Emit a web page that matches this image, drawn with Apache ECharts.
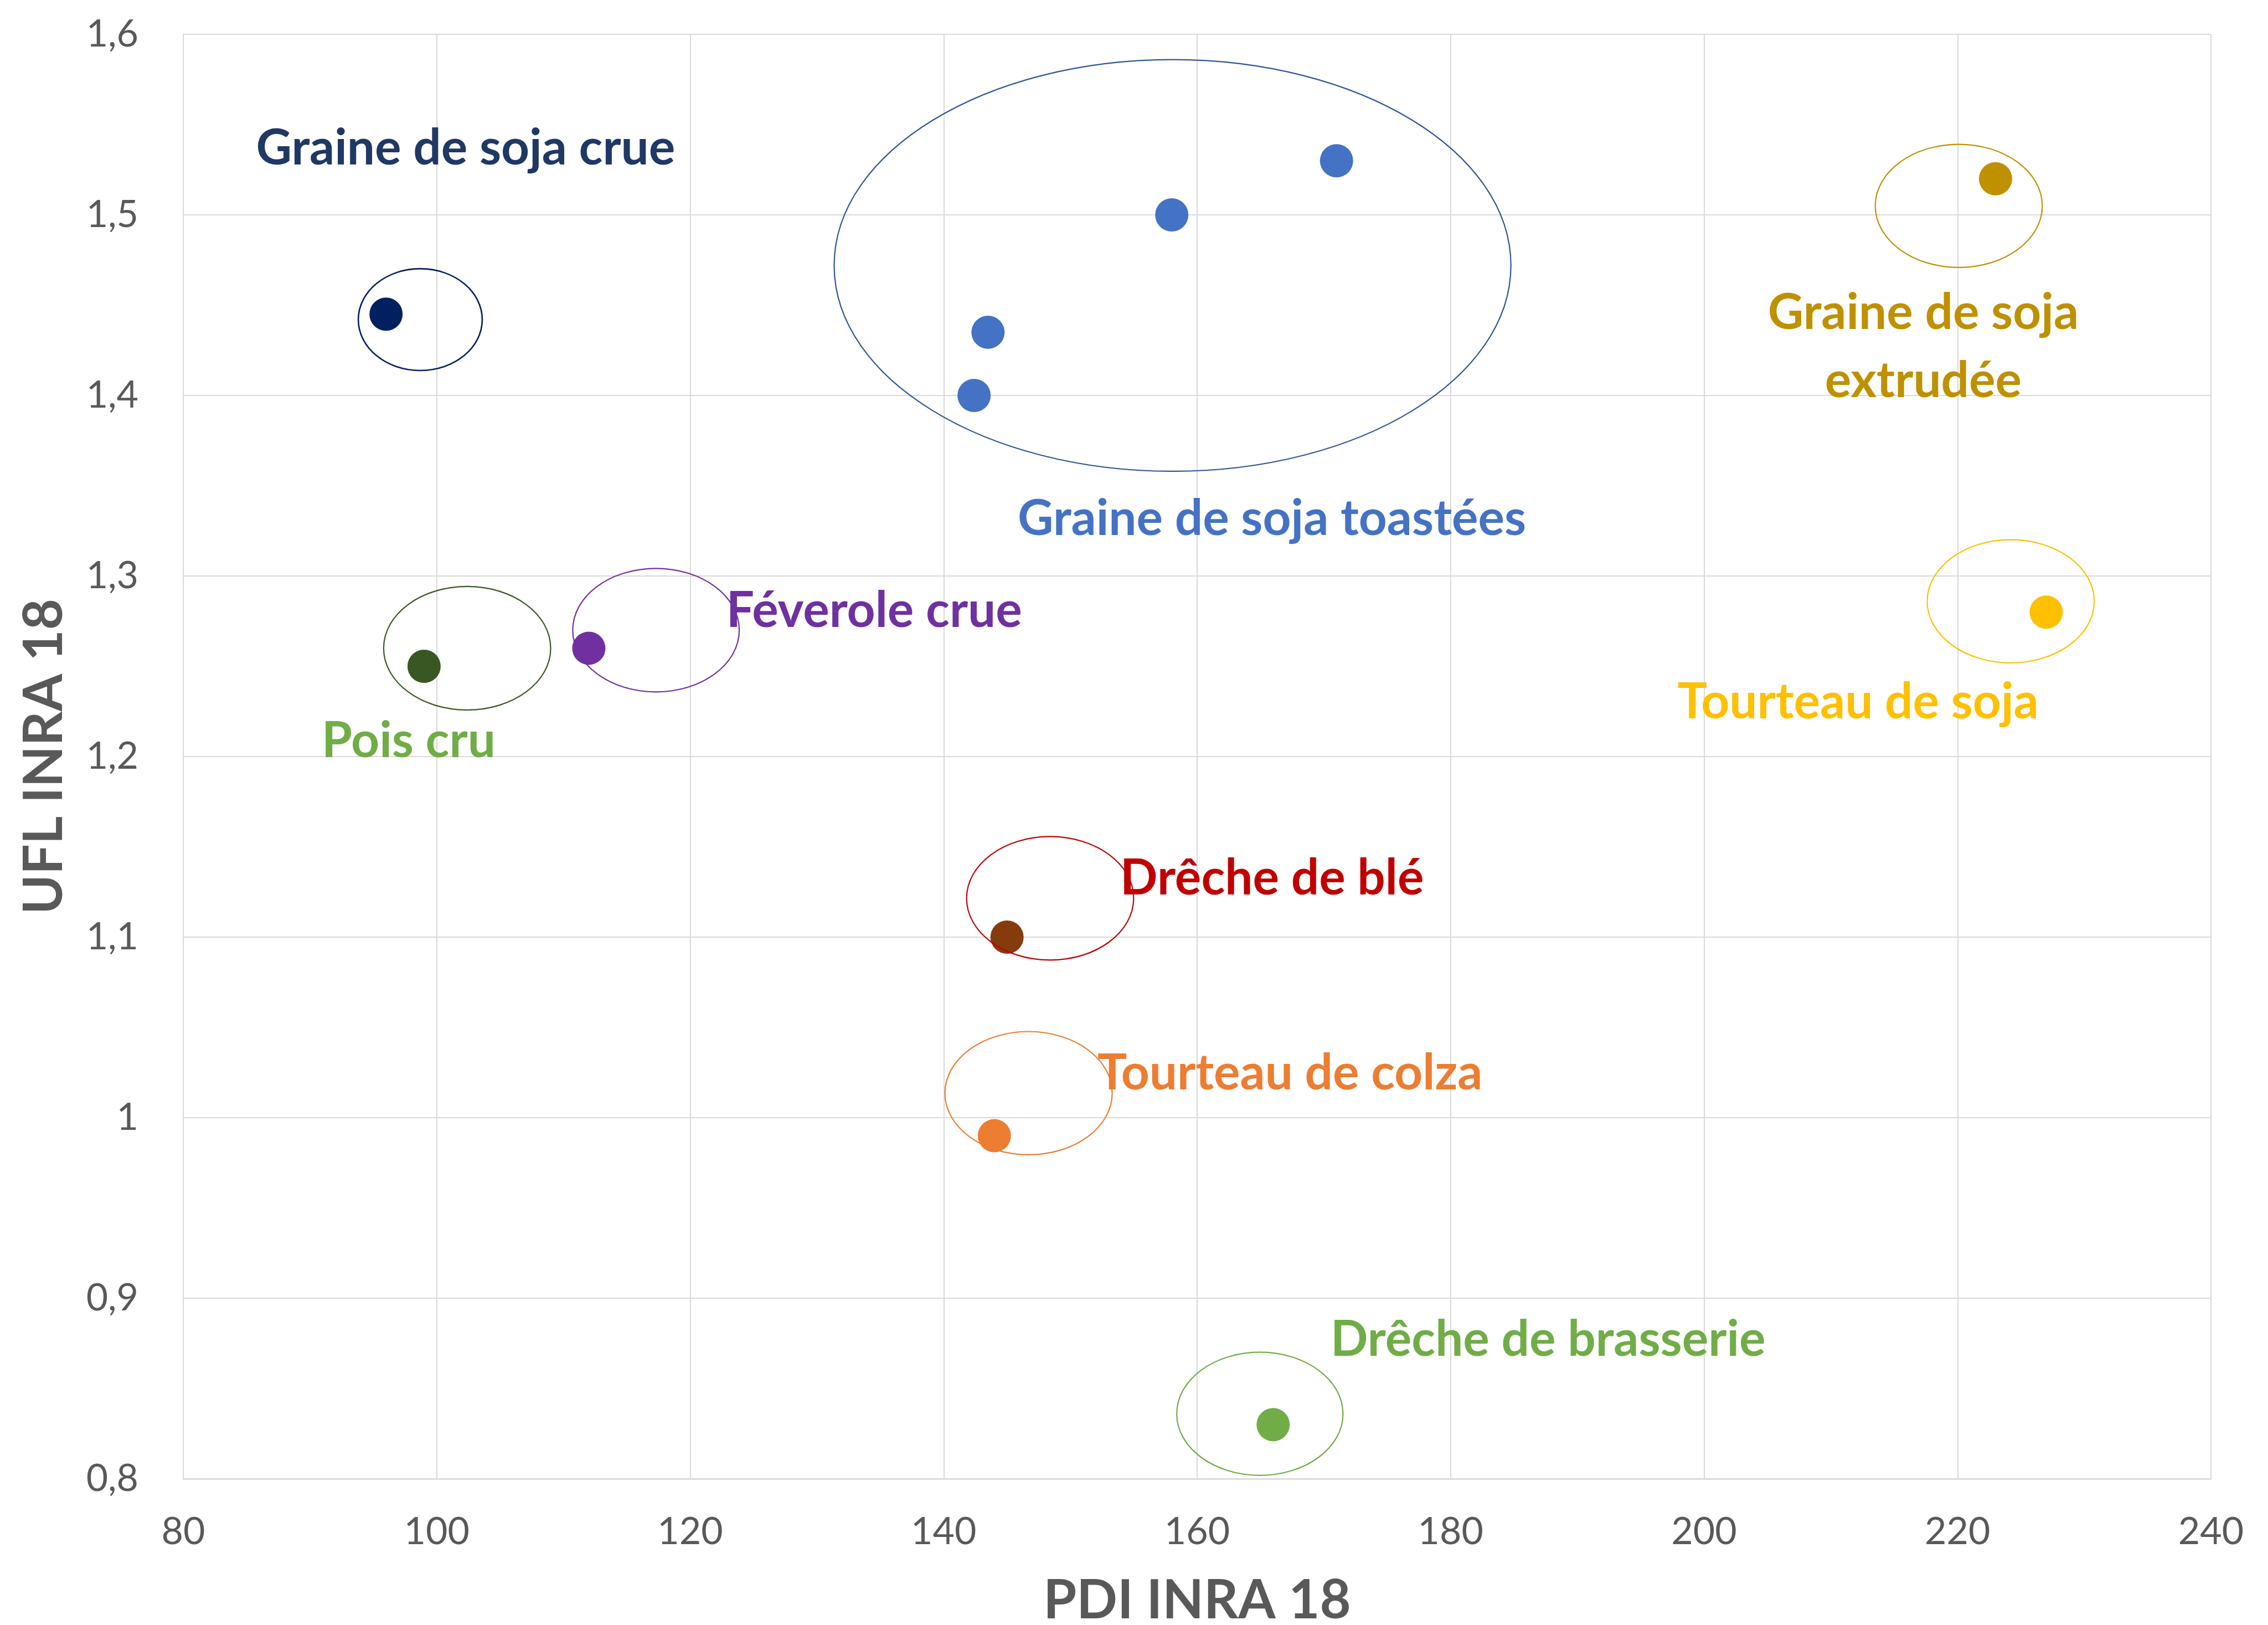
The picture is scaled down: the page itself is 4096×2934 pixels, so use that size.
<!DOCTYPE html>
<html>
<head>
<meta charset="utf-8">
<script src="https://cdn.jsdelivr.net/npm/echarts@6/dist/echarts.min.js"></script>
<style>
html,body{margin:0;padding:0;background:#fff;}
#chart{width:4096px;height:2934px;}
</style>
</head>
<body>
<div id="chart"></div>
<script>
// ---- data ----
const categories = ['Graine de soja crue', 'Graine de soja toastées', 'Graine de soja extrudée', 'Tourteau de soja', 'Pois cru', 'Féverole crue', 'Drêche de blé', 'Tourteau de colza', 'Drêche de brasserie'];
const pdiValues = [[96], [142.4, 143.5, 158, 171], [223], [227], [99], [112], [145], [144], [166]];
const uflValues = [[1.445], [1.40, 1.435, 1.50, 1.53], [1.52], [1.28], [1.25], [1.26], [1.10], [0.99], [0.83]];
const xTicks = [80, 100, 120, 140, 160, 180, 200, 220, 240];
const yTicks = [0.8, 0.9, 1.0, 1.1, 1.2, 1.3, 1.4, 1.5, 1.6];
const xTitle = 'PDI INRA 18';
const yTitle = 'UFL INRA 18';

// annotations (in data units): ellipse centre x, centre y, radius x, radius y
const ellipseCx = [98.7, 158.06, 220.1, 224.2, 102.4, 117.3, 148.4, 146.7, 164.95];
const ellipseCy = [1.442, 1.472, 1.505, 1.286, 1.260, 1.270, 1.1215, 1.0136, 0.836];
const ellipseRx = [4.89, 26.7, 6.59, 6.59, 6.59, 6.57, 6.59, 6.6, 6.56];
const ellipseRy = [0.0282, 0.114, 0.0341, 0.0341, 0.0342, 0.0342, 0.0342, 0.0341, 0.0341];
// annotation label texts and anchors (data units)
const labelTexts = ['Graine de soja crue', 'Graine de soja toastées', 'Graine de soja\nextrudée', 'Tourteau de soja', 'Pois cru', 'Féverole crue', 'Drêche de blé', 'Tourteau de colza', 'Drêche de brasserie'];
const labelX = [102.28, 165.9, 217.3, 212.15, 97.78, 134.52, 165.91, 167.33, 187.69];
const labelY = [1.5385, 1.3332, 1.4286, 1.2317, 1.2102, 1.2823, 1.1344, 1.0262, 0.8787];

// ---- styles ----
const markerColors = ['#002060', '#4472C4', '#BF9000', '#FFC000', '#385723', '#7030A0', '#843C0C', '#ED7D31', '#70AD47'];
const ellipseColors = ['#002060', '#2F5597', '#BF9000', '#FFC000', '#385723', '#7030A0', '#C00000', '#ED7D31', '#70AD47'];
const labelColors = ['#1F3864', '#4472C4', '#BF9000', '#FFC000', '#70AD47', '#7030A0', '#C00000', '#ED7D31', '#70AD47'];
const FONT = 'Lato, "Noto Sans", sans-serif';

const fmt = v => Number(v.toFixed(1)).toString().replace('.', ',');

const chart = echarts.init(document.getElementById('chart'), null, {renderer: 'canvas'});

const series = categories.map((name, i) => ({
  name: name,
  type: 'scatter',
  symbol: 'circle',
  symbolSize: 60,
  itemStyle: {color: markerColors[i], opacity: 1},
  data: pdiValues[i].map((x, j) => [x, uflValues[i][j]]),
  z: 2
}));

series.push({
  type: 'custom',
  name: 'ellipses',
  coordinateSystem: 'cartesian2d',
  clip: false,
  z: 3,
  silent: true,
  data: ellipseCx.map((cx, i) => [cx, ellipseCy[i], ellipseRx[i], ellipseRy[i], i]),
  renderItem: (params, api) => {
    const i = api.value(4);
    const c = api.coord([api.value(0), api.value(1)]);
    const s = api.size([api.value(2), api.value(3)]);
    return {
      type: 'ellipse',
      shape: {cx: c[0], cy: c[1], rx: s[0], ry: s[1]},
      style: {fill: null, stroke: ellipseColors[i], lineWidth: i === 0 ? 2.6 : 2.2}
    };
  }
});

series.push({
  type: 'custom',
  name: 'labels',
  coordinateSystem: 'cartesian2d',
  clip: false,
  z: 4,
  silent: true,
  data: labelX.map((x, i) => [x, labelY[i], i]),
  renderItem: (params, api) => {
    const i = api.value(2);
    const c = api.coord([api.value(0), api.value(1)]);
    return {
      type: 'text',
      x: c[0],
      y: c[1] + 6,
      style: {
        text: labelTexts[i],
        fill: labelColors[i],
        fontFamily: FONT,
        fontWeight: 'bold',
        fontSize: 89,
        lineHeight: 123,
        align: 'center',
        verticalAlign: 'middle'
      }
    };
  }
});

chart.setOption({
  animation: false,
  backgroundColor: '#ffffff',
  grid: {left: 331, top: 62, right: 103, bottom: 264, containLabel: false, outerBoundsMode: 'none'},
  xAxis: {
    type: 'value',
    min: xTicks[0], max: xTicks[xTicks.length - 1], interval: xTicks[1] - xTicks[0],
    name: xTitle,
    nameLocation: 'middle',
    nameGap: 172,
    nameTextStyle: {color: '#595959', fontFamily: FONT, fontWeight: 'bold', fontSize: 97},
    axisLine: {show: true, lineStyle: {color: '#D9D9D9', width: 2.5}},
    axisTick: {show: false},
    axisLabel: {color: '#595959', fontFamily: FONT, fontSize: 68, margin: 62, formatter: v => String(v)},
    splitLine: {show: true, lineStyle: {color: '#D9D9D9', width: 2}}
  },
  yAxis: {
    type: 'value',
    min: yTicks[0], max: yTicks[yTicks.length - 1], interval: 0.1,
    name: yTitle,
    nameLocation: 'middle',
    nameGap: 202,
    nameTextStyle: {color: '#595959', fontFamily: FONT, fontWeight: 'bold', fontSize: 97},
    axisLine: {show: false},
    axisTick: {show: false},
    axisLabel: {color: '#595959', fontFamily: FONT, fontSize: 68, margin: 81, formatter: v => fmt(v)},
    splitLine: {show: true, lineStyle: {color: '#D9D9D9', width: 2}}
  },
  series: series
});
</script>
</body>
</html>
